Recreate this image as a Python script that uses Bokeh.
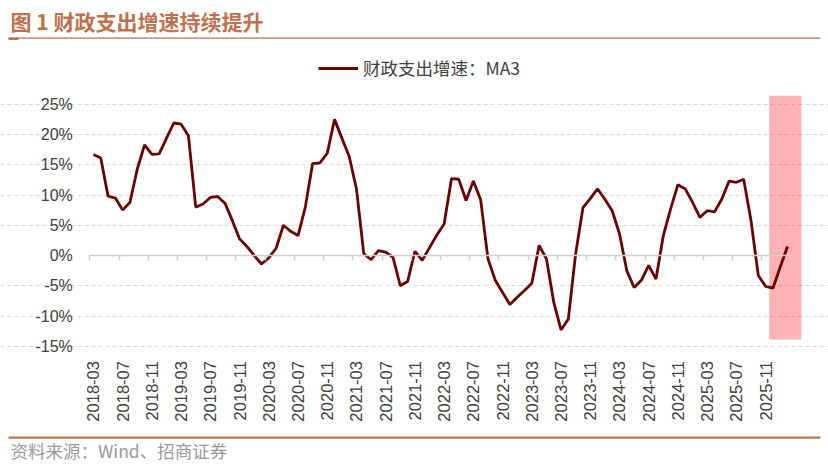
import math
import pandas as pd
from bokeh.plotting import figure
from bokeh.models import (Range1d, FixedTicker, LinearAxis, PrintfTickFormatter,
                          BoxAnnotation, Label, Legend, LegendItem)
from bokeh.embed import file_html
from bokeh.resources import INLINE

# ---- data (财政支出增速：MA3, %) ----
start_month = "2018-03"
spend_ma3 = [
    16.7, 16.1, 9.8, 9.5, 7.5, 8.8, 14.3, 18.3, 16.7, 16.8, 19.4, 21.9,
    21.7, 19.8, 8.0, 8.5, 9.6, 9.75, 8.65, 5.8, 2.75, 1.5, 0.0, -1.4,
    -0.4, 1.2, 5.0, 4.0, 3.3, 8.0, 15.2, 15.3, 16.9, 22.5, 19.4, 16.4,
    11.0, 0.3, -0.7, 0.8, 0.55, -0.3, -5.0, -4.3, 0.7, -0.8, 1.3, 3.4,
    5.2, 12.7, 12.6, 9.1, 12.3, 9.2, -0.55, -4.1, -6.1, -8.1, -6.9, -5.8,
    -4.6, 1.65, -0.55, -7.7, -12.3, -10.5, 0.3, 7.9, 9.4, 11.0, 9.3, 7.4,
    3.6, -2.5, -5.3, -4.1, -1.65, -3.9, 3.3, 7.7, 11.7, 11.0, 8.8, 6.3,
    7.4, 7.2, 9.3, 12.3, 12.1, 12.6, 5.8, -3.3, -5.1, -5.4, -1.9, 1.5,
]
tick_labels = [
    "2018-03", "2018-07", "2018-11", "2019-03", "2019-07", "2019-11",
    "2020-03", "2020-07", "2020-11", "2021-03", "2021-07", "2021-11",
    "2022-03", "2022-07", "2022-11", "2023-03", "2023-07", "2023-11",
    "2024-03", "2024-07", "2024-11", "2025-03", "2025-07", "2025-11",
]
y_ticks = [-15, -10, -5, 0, 5, 10, 15, 20, 25]
highlight = dict(left=92.5, right=96.9, top=26.4, bottom=-13.9)

months = list(pd.period_range(start_month, periods=len(spend_ma3), freq="M").strftime("%Y-%m"))
xs = list(range(len(spend_ma3)))
n = len(xs)

TITLE_COLOR = "#C0704C"
TEXT_COLOR = "#404040"
W, H = 828, 465

# the frame covers the whole canvas; axes sit at fixed positions inside it
# plot area: x -0.5..95.5 -> px 89..791, y -15..25 -> px 346..104
px_x = 7.306
px_y = 6.05
x0, y0 = 89.3, 255.0
p = figure(width=W, height=H, output_backend="svg", toolbar_location=None,
           x_range=Range1d(-0.5 - x0 / px_x, -0.5 + (W - x0) / px_x),
           y_range=Range1d(-(H - y0) / px_y, y0 / px_y),
           min_border=0, x_axis_location=None, y_axis_location=None)
p.outline_line_color = None
p.background_fill_color = "white"
p.border_fill_color = "white"

plot_bounds = (-0.5, n - 0.5)

# highlight box behind the line
p.add_layout(BoxAnnotation(fill_color="#FF0000", fill_alpha=0.3, line_color=None,
                           level="underlay", **highlight))

line = p.line(xs, spend_ma3, line_color="#6B0000", line_width=2.8)

# grid
p.xgrid.visible = False
p.ygrid.ticker = FixedTicker(ticks=[t for t in y_ticks if t != 0])
p.ygrid.bounds = plot_bounds
p.ygrid.grid_line_color = "#d9d9d9"
p.ygrid.grid_line_dash = "4 3"
p.ygrid.grid_line_width = 1

# y axis
yaxis = LinearAxis(fixed_location=-0.5, ticker=FixedTicker(ticks=y_ticks),
                   formatter=PrintfTickFormatter(format="%d%%"),
                   axis_line_color=None, major_tick_line_color=None,
                   minor_tick_line_color=None, major_label_standoff=11,
                   major_label_text_font="Liberation Sans",
                   major_label_text_font_size="16px",
                   major_label_text_color=TEXT_COLOR)
p.add_layout(yaxis, "left")

# x axis labels at bottom of plot area
tick_idx = [months.index(m) for m in tick_labels]
xaxis = LinearAxis(fixed_location=-15.3, ticker=FixedTicker(ticks=tick_idx),
                   major_label_overrides={i: months[i] for i in tick_idx},
                   major_label_orientation=math.pi / 2,
                   axis_line_color=None, major_tick_line_color=None,
                   minor_tick_line_color=None, major_label_standoff=7,
                   major_label_text_font="Liberation Sans",
                   major_label_text_font_size="16.5px",
                   major_label_text_color=TEXT_COLOR)
p.add_layout(xaxis, "below")

# zero line axis with tick marks between categories
zero_axis = LinearAxis(fixed_location=0, bounds=plot_bounds,
                       ticker=FixedTicker(ticks=[], minor_ticks=[i - 0.5 for i in range(0, n + 1, 4)]),
                       axis_line_color="#cfcfcf", axis_line_width=1.5,
                       major_tick_line_color=None, minor_tick_line_color="#cfcfcf",
                       minor_tick_line_width=1.5, minor_tick_in=0, minor_tick_out=5,
                       major_label_text_font_size="0px")
p.add_layout(zero_axis, "below")

# legend
legend = Legend(items=[LegendItem(label="财政支出增速：MA3", renderers=[line])],
                location=(318, H - 80), orientation="horizontal",
                padding=0, margin=0, spacing=0, border_line_color=None,
                background_fill_alpha=0, glyph_width=40, glyph_height=20,
                label_height=20, label_standoff=5,
                label_text_font="Noto Sans CJK SC", label_text_font_size="17.5px",
                label_text_color=TEXT_COLOR)
p.add_layout(legend, "center")


def rule(left, right, top, bottom):
    return BoxAnnotation(left=left, right=right, top=H - top, bottom=H - bottom,
                         left_units="screen", right_units="screen",
                         top_units="screen", bottom_units="screen",
                         fill_color=TITLE_COLOR, fill_alpha=1, line_color=None)


# title, header rule, footer rule, source
p.add_layout(Label(x=10, y=H - 20, x_units="screen", y_units="screen",
                   text="图 1  财政支出增速持续提升", text_font="Noto Sans CJK SC",
                   text_font_style="bold", text_font_size="21px", text_color=TITLE_COLOR,
                   text_baseline="middle"))
p.add_layout(rule(8, 820, 37, 38.3))
p.add_layout(rule(8, 18, 37, 39.5))
p.add_layout(rule(8, 820, 436, 438.3))
p.add_layout(Label(x=10, y=H - 450, x_units="screen", y_units="screen",
                   text="资料来源：Wind、招商证券", text_font="Noto Sans CJK SC",
                   text_font_size="17.5px", text_color="#9a9a9a", text_baseline="middle"))

open("out.html", "w").write(file_html(p, INLINE))
